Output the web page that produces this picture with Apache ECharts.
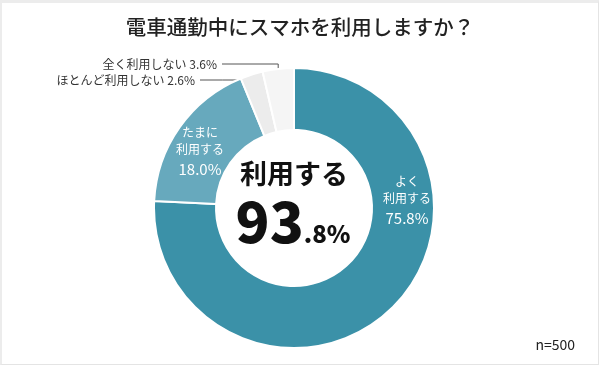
<!DOCTYPE html>
<html><head><meta charset="utf-8">
<script src="https://cdn.jsdelivr.net/npm/echarts@6/dist/echarts.min.js"></script>
<style>
html,body{margin:0;padding:0;background:#fff;}
#frame{position:absolute;left:0;top:0;width:596px;height:361px;border:1px solid #e4e4e4;border-top:3px solid #ececec;border-left:2px solid #ececec;}
#c{position:absolute;left:0;top:0;width:600px;height:366px;}
</style></head>
<body>
<div id="frame"></div>
<div id="c"></div>
<script>
const titleText = '電車通勤中にスマホを利用しますか？';
const categories = ['よく利用する', 'たまに利用する', 'ほとんど利用しない', '全く利用しない'];
const labelLines = [['よく', '利用する'], ['たまに', '利用する'], ['ほとんど利用しない'], ['全く利用しない']];
const values = [75.8, 18.0, 2.6, 3.6];
const centerLabel = '利用する';
const sampleNote = 'n=500';

const colors = ['#3b91a8', '#67a9bd', '#ececec', '#f5f5f5'];
const usePct = (values[0] + values[1]).toFixed(1);
const usePctParts = usePct.split('.');

const font = '"Noto Sans CJK JP","Noto Sans",sans-serif';
const chart = echarts.init(document.getElementById('c'), null, {renderer: 'canvas'});

const data = categories.map((name, i) => {
  const inside = i < 2;
  return {
    name: name,
    value: values[i],
    itemStyle: {color: colors[i]},
    label: {position: inside ? 'inside' : 'outside'},
    labelLine: {show: !inside, lineStyle: {color: '#555', width: 1}}
  };
});

chart.setOption({
  animation: false,
  title: {
    text: titleText, left: 'center', top: 12,
    textStyle: {fontFamily: font, fontSize: 20.5, fontWeight: 500, color: '#222'}
  },
  graphic: [
    {type: 'text', x: 294, y: 174, style: {text: centerLabel, font: 'bold 27px ' + font, fill: '#111', textAlign: 'center', textVerticalAlign: 'middle'}},
    {type: 'text', x: 293, y: 222, style: {
      text: '{a|' + usePctParts[0] + '}{b|.' + usePctParts[1] + '%}',
      textAlign: 'center', textVerticalAlign: 'middle',
      rich: {
        a: {font: '900 56px ' + font, fill: '#111', verticalAlign: 'bottom'},
        b: {font: '900 24px ' + font, fill: '#111', verticalAlign: 'bottom', padding: [0, 0, 4, 0]}
      }
    }},
    {type: 'text', right: 25, top: 338, style: {text: sampleNote, font: '14px ' + font, fill: '#222'}}
  ],
  series: [{
    type: 'pie',
    center: [294, 208],
    radius: [78, 140],
    startAngle: 90,
    clockwise: true,
    avoidLabelOverlap: false,
    itemStyle: {borderColor: '#fff', borderWidth: 2},
    label: {
      show: true,
      formatter: function (p) {
        const i = p.dataIndex;
        const pct = values[i].toFixed(1) + '%';
        if (i < 2) {
          return labelLines[i].map(t => '{t|' + t + '}').join('\n') + '\n{p|' + pct + '}';
        }
        return '{o|' + labelLines[i][0] + ' ' + pct + '}';
      },
      rich: {
        t: {fontFamily: font, fontSize: 12, color: '#fff', lineHeight: 17, align: 'center'},
        p: {fontFamily: font, fontSize: 15, color: '#fff', lineHeight: 22, align: 'center'},
        o: {fontFamily: font, fontSize: 12, color: '#333'}
      }
    },
    labelLayout: function (p) {
      const i = p.dataIndex;
      const pts = p.labelLinePoints;
      if (i === 0) return {x: 407, y: 201, align: 'center', verticalAlign: 'middle'};
      if (i === 1) return {x: 200, y: 152, align: 'center', verticalAlign: 'middle'};
      if (i === 2) {
        return {x: 195, y: 80, align: 'right', verticalAlign: 'middle',
          labelLinePoints: [[pts[0][0] - 7, 80], [(pts[0][0] - 7 + 200) / 2, 80], [200, 80]]};
      }
      return {x: 217, y: 64, align: 'right', verticalAlign: 'middle',
        labelLinePoints: [[pts[0][0], pts[0][1] + 9], [pts[0][0], 64], [222, 64]]};
    },
    data: data
  }]
});
</script>
</body></html>
